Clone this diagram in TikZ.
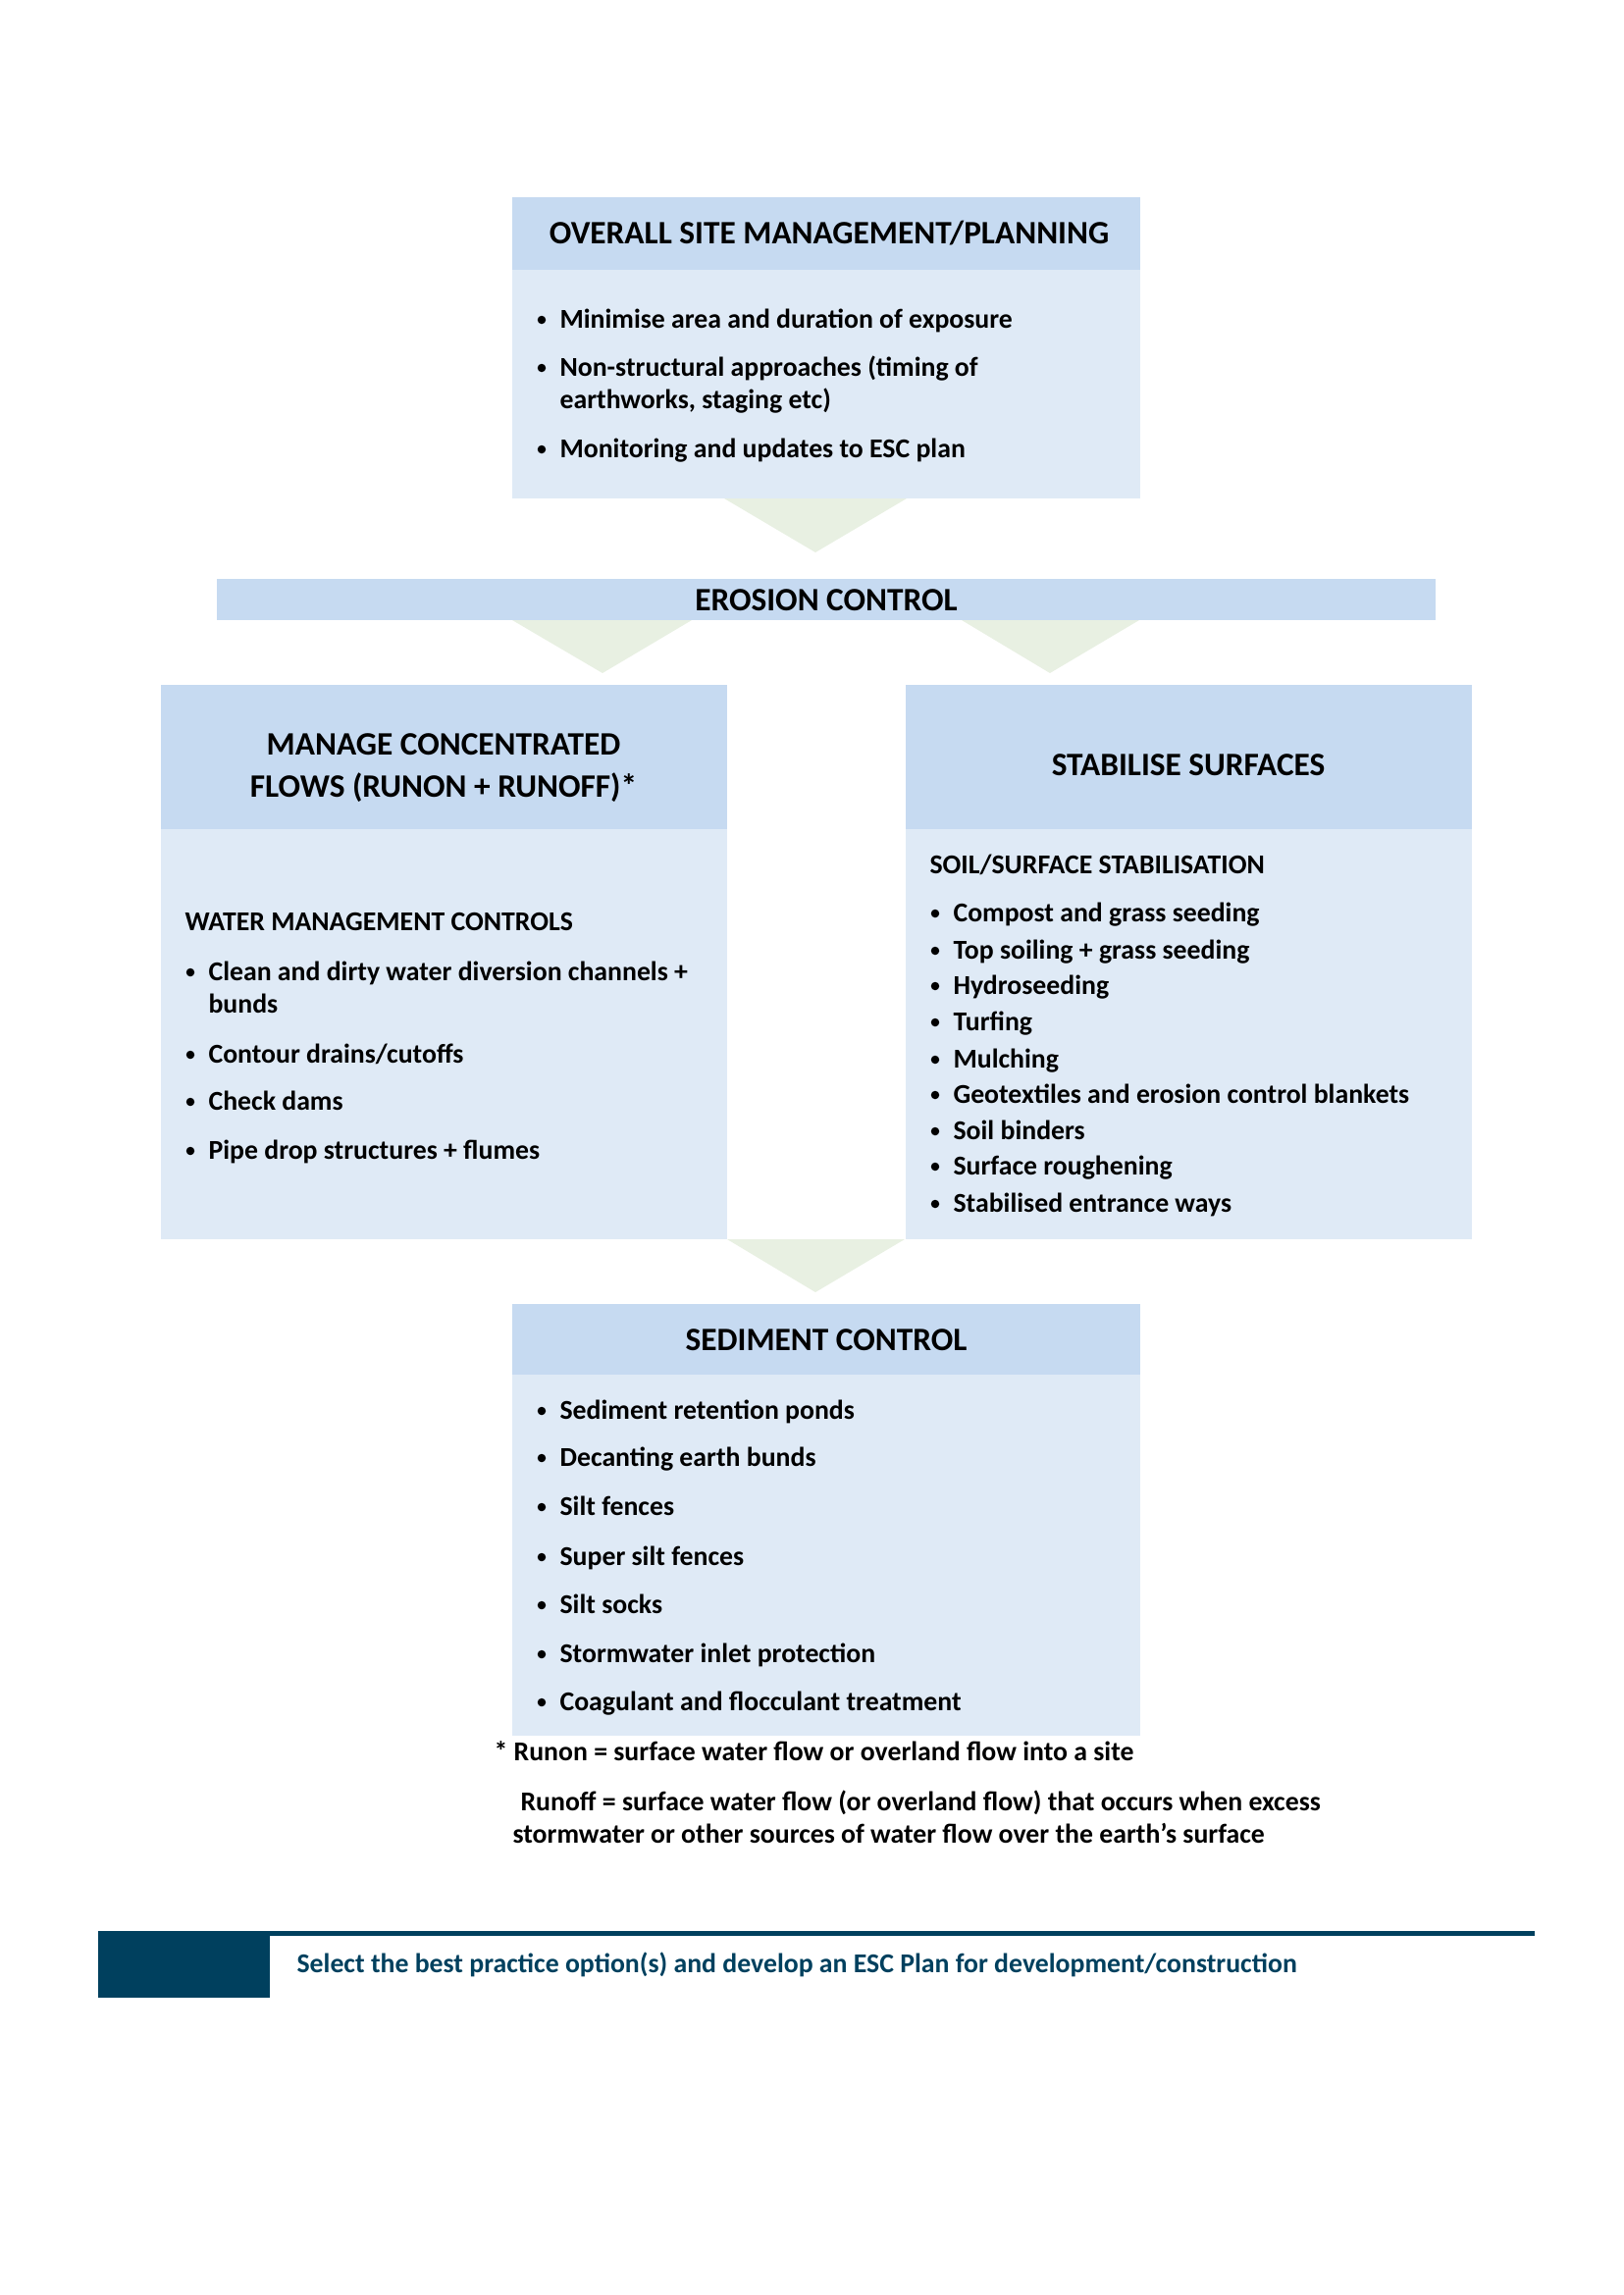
\documentclass[tikz,border=0pt]{standalone}
\usepackage{fontspec}
\setmainfont{Carlito}
\usetikzlibrary{calc}
\definecolor{hdr}{HTML}{C6DAF1}
\definecolor{bdy}{HTML}{DFEAF6}
\definecolor{tri}{HTML}{E8F0E2}
\definecolor{navy}{HTML}{00405E}
\newcommand{\bitem}[4]{%
  \node[bul] (#1d) at (#2-18,#3-8) {};
  \node[itm] (#1) at (#2,#3) {#4};}
\begin{document}
\begin{tikzpicture}[x=0.36pt,y=-0.36pt,
  box/.style={rectangle, inner sep=0pt, outer sep=0pt, draw=none, anchor=north west},
  hbox/.style={box, fill=hdr},
  bbox/.style={box, fill=bdy},
  ttl/.style={anchor=base, inner sep=0pt, font=\bfseries\fontsize{12}{14}\selectfont},
  sub/.style={anchor=base west, inner sep=0pt, font=\bfseries\fontsize{10}{12}\selectfont},
  itm/.style={anchor=base west, inner sep=0pt, font=\bfseries\fontsize{10}{12}\selectfont},
  bul/.style={circle, fill=black, inner sep=0pt, minimum size=8.5*0.36pt},
  chev/.style={fill=tri, draw=none}]
\useasboundingbox (0,0) rectangle (1654,2339);

% ---------- box 1
\node[hbox, minimum width=640*0.36pt, minimum height=74*0.36pt] (h1) at (522,201) {};
\node[bbox, minimum width=640*0.36pt, minimum height=233*0.36pt] (b1) at (522,275) {};
\node[ttl] (t1) at (845,248) {OVERALL SITE MANAGEMENT/PLANNING};
\bitem{a1}{570}{334}{Minimise area and duration of exposure}
\bitem{a2}{570}{383}{Non-structural approaches (timing of}
\node[itm] (a2b) at (570,416) {earthworks, staging etc)};
\bitem{a3}{570}{466}{Monitoring and updates to ESC plan}

% chevron 1
\coordinate (c1l) at (738,508);
\coordinate (c1r) at (924,508);
\coordinate (c1a) at (831,563);
\fill[chev] (c1l) -- (c1r) -- (c1a) -- cycle;

% ---------- erosion bar
\node[hbox, minimum width=1242*0.36pt, minimum height=42*0.36pt] (eb) at (221,590) {};
\node[ttl] (et) at (842,622) {EROSION CONTROL};

\coordinate (c2l) at (522,632);
\coordinate (c2r) at (705,632);
\coordinate (c2a) at (614,686);
\fill[chev] (c2l) -- (c2r) -- (c2a) -- cycle;
\coordinate (c3l) at (980,632);
\coordinate (c3r) at (1161,632);
\coordinate (c3a) at (1070,686);
\fill[chev] (c3l) -- (c3r) -- (c3a) -- cycle;

% ---------- left box
\node[hbox, minimum width=577*0.36pt, minimum height=147*0.36pt] (hL) at (164,698) {};
\node[bbox, minimum width=577*0.36pt, minimum height=418*0.36pt] (bL) at (164,845) {};
\node[ttl] (tL1) at (452,769) {MANAGE CONCENTRATED};
\node[ttl] (tL2) at (452,812) {FLOWS (RUNON + RUNOFF)*};
\node[sub] (sL) at (188,948) {WATER MANAGEMENT CONTROLS};
\bitem{l1}{212}{999}{Clean and dirty water diversion channels +}
\node[itm] (l1b) at (212,1032) {bunds};
\bitem{l2}{212}{1083}{Contour drains/cutoffs}
\bitem{l3}{212}{1131}{Check dams}
\bitem{l4}{212}{1181}{Pipe drop structures + flumes}

% ---------- right box
\node[hbox, minimum width=577*0.36pt, minimum height=147*0.36pt] (hR) at (923,698) {};
\node[bbox, minimum width=577*0.36pt, minimum height=418*0.36pt] (bR) at (923,845) {};
\node[ttl] (tR) at (1211,790) {STABILISE SURFACES};
\node[sub] (sR) at (947,890) {SOIL/SURFACE STABILISATION};
\bitem{r1}{971}{939}{Compost and grass seeding}
\bitem{r2}{971}{977}{Top soiling + grass seeding}
\bitem{r3}{971}{1013}{Hydroseeding}
\bitem{r4}{971}{1050}{Turfing}
\bitem{r5}{971}{1088}{Mulching}
\bitem{r6}{971}{1124}{Geotextiles and erosion control blankets}
\bitem{r7}{971}{1161}{Soil binders}
\bitem{r8}{971}{1197}{Surface roughening}
\bitem{r9}{971}{1235}{Stabilised entrance ways}

% chevron 4
\coordinate (c4l) at (741,1263);
\coordinate (c4r) at (922,1263);
\coordinate (c4a) at (831,1317);
\fill[chev] (c4l) -- (c4r) -- (c4a) -- cycle;

% ---------- sediment box
\node[hbox, minimum width=640*0.36pt, minimum height=72*0.36pt] (hS) at (522,1329) {};
\node[bbox, minimum width=640*0.36pt, minimum height=368*0.36pt] (bS) at (522,1401) {};
\node[ttl] (tS) at (842,1376) {SEDIMENT CONTROL};
\bitem{s1}{570}{1446}{Sediment retention ponds}
\bitem{s2}{570}{1494}{Decanting earth bunds}
\bitem{s3}{570}{1544}{Silt fences}
\bitem{s4}{570}{1595}{Super silt fences}
\bitem{s5}{570}{1644}{Silt socks}
\bitem{s6}{570}{1694}{Stormwater inlet protection}
\bitem{s7}{570}{1743}{Coagulant and flocculant treatment}

% ---------- footnotes
\node[itm] (f1) at (503,1794) {* Runon = surface water flow or overland flow into a site};
\node[itm] (f2) at (530,1845) {Runoff = surface water flow (or overland flow) that occurs when excess};
\node[itm] (f3) at (522,1878) {stormwater or other sources of water flow over the earth’s surface};

% ---------- footer
\fill[navy] (100,1968) rectangle (1564,1973);
\node[box, fill=navy, minimum width=175*0.36pt, minimum height=67*0.36pt] (sq) at (100,1969) {};
\node[itm, text=navy] (ft) at (302,2010) {Select the best practice option(s) and develop an ESC Plan for development/construction};
\end{tikzpicture}
\end{document}
